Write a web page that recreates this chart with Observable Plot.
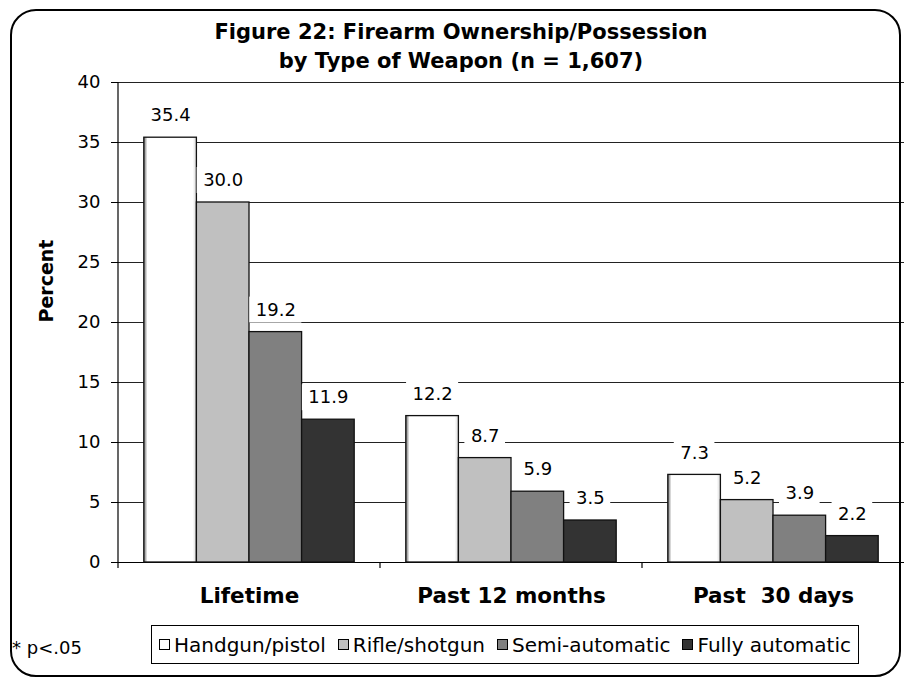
<!DOCTYPE html>
<html><head><meta charset="utf-8">
<script src="https://cdn.jsdelivr.net/npm/d3@7"></script>
<script src="https://cdn.jsdelivr.net/npm/@observablehq/plot@0.6"></script>
<style>
body{margin:0;background:#fff;font-family:"DejaVu Sans",sans-serif;color:#000;}
#wrap{position:relative;width:904px;height:679px;overflow:hidden;background:#fff;}
#frame{position:absolute;left:10px;top:9px;width:891px;height:668px;border:2px solid #000;border-radius:26px;box-sizing:border-box;}
#title{position:absolute;left:0;width:922px;top:18px;text-align:center;font-weight:bold;font-size:21px;line-height:29px;white-space:nowrap;}
#chart{position:absolute;left:0;top:0;}
#chart svg text{white-space:pre;}
#legend{position:absolute;left:151px;top:625px;width:708px;height:39px;border:1px solid #000;box-sizing:border-box;display:flex;align-items:center;justify-content:center;font-size:20px;background:#fff;white-space:nowrap;}
#legend .item{display:flex;align-items:center;margin:0 6px;}
#legend .sw{width:11px;height:11px;border:1px solid #000;margin-right:4px;box-sizing:border-box;}
#note{position:absolute;left:12px;top:637px;font-size:18px;}
</style></head>
<body>
<div id="wrap">
  <div id="chart"></div>
  <div id="frame"></div>
  <div id="title">Figure 22: Firearm Ownership/Possession<br>by Type of Weapon (n = 1,607)</div>
  <div id="legend"></div>
  <div id="note">* p&lt;.05</div>
</div>
<script>
const categories = ["Lifetime", "Past 12 months", "Past  30 days"];
const types = ["Handgun/pistol", "Rifle/shotgun", "Semi-automatic", "Fully automatic"];
const handgun = [35.4, 12.2, 7.3];
const rifle = [30.0, 8.7, 5.2];
const semi = [19.2, 5.9, 3.9];
const full = [11.9, 3.5, 2.2];
const yTicks = [0, 5, 10, 15, 20, 25, 30, 35, 40];

const series = [handgun, rifle, semi, full];
const fills = ["url(#handgunGrad)", "#c0c0c0", "#808080", "#333333"];
const legendFills = ["#ffffff", "#c0c0c0", "#808080", "#333333"];

const W = 904, H = 612, mL = 118, mR = 0, mT = 82, mB = 50;
const bw = (W - mL - mR) / categories.length;
const pad = 25.8;
const barW = (bw - 2 * pad) / types.length;
const labelFont = "18px 'DejaVu Sans'";
const labelDy = -22;

const ctx2d = document.createElement("canvas").getContext("2d");
ctx2d.font = labelFont;

function defs() {
  const g = d3.create("svg:g");
  const grad = g.append("defs").append("linearGradient").attr("id", "handgunGrad")
    .attr("x1", "0").attr("x2", "1").attr("y1", "0").attr("y2", "0");
  [["0", "#6a6a6a"], ["0.07", "#ffffff"], ["0.93", "#ffffff"], ["1", "#d8d8d8"]]
    .forEach(([o, c]) => grad.append("stop").attr("offset", o).attr("stop-color", c));
  return g.node();
}

function edges(index, scales) {
  const g = d3.create("svg:g").attr("stroke", "#000").attr("stroke-width", 1.2);
  const x = scales.x, y = scales.y;
  const y0 = y(0), yTop = y(yTicks[yTicks.length - 1]);
  const x0 = x(categories[0]);
  g.append("line").attr("x1", x0).attr("x2", x0).attr("y1", yTop).attr("y2", y0);
  categories.forEach(c => {
    const xc = x(c);
    g.append("line").attr("x1", xc).attr("x2", xc).attr("y1", y0).attr("y2", y0 + 6);
  });
  return g.node();
}

// white boxes behind the value labels (they interrupt gridlines, as in the original)
function labelBoxes(index, scales) {
  const g = d3.create("svg:g").attr("fill", "#fff");
  series.forEach((vals, i) => {
    categories.forEach((c, j) => {
      const t = vals[j].toFixed(1);
      const w = ctx2d.measureText(t).width + 12;
      const cx = scales.x(c) + pad + (i + 0.5) * barW;
      const cy = scales.y(vals[j]) + labelDy;
      g.append("rect").attr("x", cx - w / 2).attr("y", cy - 13).attr("width", w).attr("height", 26);
    });
  });
  return g.node();
}

const marks = [
  defs,
  Plot.gridY(yTicks, {stroke: "#222", strokeOpacity: 1, strokeWidth: 1}),
  Plot.axisY(yTicks, {tickSize: 7, tickPadding: 11, fontSize: 18, label: null, stroke: "#000"}),
  Plot.axisX({anchor: "bottom", tickSize: 0, tickPadding: 25, fontSize: 21.5, fontWeight: "bold", label: null}),
  Plot.ruleY([0], {stroke: "#000", strokeWidth: 1.2, insetLeft: -7}),
  edges
];

series.forEach((vals, i) => {
  const data = categories.map((c, j) => ({category: c, type: types[i], value: vals[j]}));
  marks.push(Plot.barY(data, {
    x: "category", y: "value", fill: fills[i], stroke: "#111", strokeWidth: 1.3,
    insetLeft: pad + i * barW, insetRight: pad + (types.length - 1 - i) * barW
  }));
});

marks.push(labelBoxes);

series.forEach((vals, i) => {
  const data = categories.map((c, j) => ({category: c, type: types[i], value: vals[j]}));
  marks.push(Plot.text(data, {
    x: "category", y: "value", text: d => d.value.toFixed(1),
    dx: -bw / 2 + pad + (i + 0.5) * barW, dy: labelDy,
    fontSize: 18, fill: "#000"
  }));
});

marks.push(Plot.text(["Percent"], {
  text: d => d, frameAnchor: "left", rotate: -90, dx: -72,
  fontWeight: "bold", fontSize: 19, fill: "#000"
}));

const chart = Plot.plot({
  width: W, height: H,
  marginLeft: mL, marginRight: mR, marginTop: mT, marginBottom: mB,
  style: {fontFamily: "DejaVu Sans", fontSize: "18px", color: "#000", background: "transparent", overflow: "visible"},
  x: {domain: categories, padding: 0},
  y: {domain: [0, 40]},
  marks
});
document.getElementById("chart").appendChild(chart);

const legend = document.getElementById("legend");
types.forEach((t, i) => {
  const item = document.createElement("div");
  item.className = "item";
  const sw = document.createElement("div");
  sw.className = "sw";
  sw.style.background = legendFills[i];
  const lab = document.createElement("span");
  lab.textContent = t;
  item.appendChild(sw);
  item.appendChild(lab);
  legend.appendChild(item);
});
</script>
</body></html>
